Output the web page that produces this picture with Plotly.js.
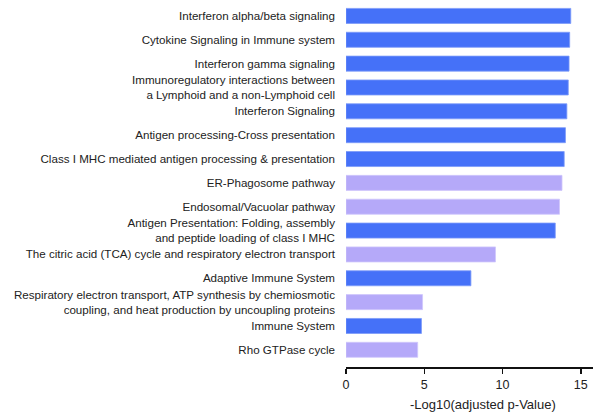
<!DOCTYPE html>
<html>
<head>
<meta charset="utf-8">
<script src="https://cdn.plot.ly/plotly-3.0.1.min.js"></script>
<style>html,body{margin:0;padding:0;background:#fff;}#chart{width:593px;height:414px;}</style>
</head>
<body>
<div id="chart"></div>
<script>
const pathways = [
  "Interferon alpha/beta signaling",
  "Cytokine Signaling in Immune system",
  "Interferon gamma signaling",
  "Immunoregulatory interactions between<br>a Lymphoid and a non-Lymphoid cell",
  "Interferon Signaling",
  "Antigen processing-Cross presentation",
  "Class I MHC mediated antigen processing &amp; presentation",
  "ER-Phagosome pathway",
  "Endosomal/Vacuolar pathway",
  "Antigen Presentation: Folding, assembly<br>and peptide loading of class I MHC",
  "The citric acid (TCA) cycle and respiratory electron transport",
  "Adaptive Immune System",
  "Respiratory electron transport, ATP synthesis by chemiosmotic<br>coupling, and heat production by uncoupling proteins",
  "Immune System",
  "Rho GTPase cycle"
];
const negLog10AdjP = [14.36, 14.29, 14.25, 14.2, 14.11, 14.02, 13.94, 13.8, 13.64, 13.37, 9.55, 7.98, 4.89, 4.82, 4.58];
const group = ["immune","immune","immune","immune","immune","immune","immune","other","other","immune","other","immune","other","immune","other"];
const groupColors = {immune: "#4571F8", other: "#B5A9F9"};
const groupLines = {immune: "#7C9AF9", other: "#CFC6FB"};
const xTicks = [0, 5, 10, 15];
const xTitle = "-Log10(adjusted p-Value)";

const trace = {
  type: "bar",
  orientation: "h",
  y: pathways,
  x: negLog10AdjP,
  marker: {
    color: group.map(g => groupColors[g]),
    line: {color: group.map(g => groupLines[g]), width: 0.8}
  },
  hoverinfo: "x+y"
};

const layout = {
  width: 593,
  height: 414,
  margin: {l: 346, r: 0, t: 4, b: 47},
  paper_bgcolor: "#fff",
  plot_bgcolor: "#fff",
  bargap: 0.37,
  showlegend: false,
  font: {family: "Liberation Sans, Arial, sans-serif", color: "#222"},
  xaxis: {
    range: [0, 15.78],
    tickvals: xTicks,
    ticktext: xTicks.map(String),
    ticks: "outside",
    ticklen: 5,
    tickwidth: 1.5,
    tickcolor: "#111",
    showline: true,
    linecolor: "#111",
    linewidth: 1.5,
    showgrid: false,
    zeroline: false,
    tickfont: {size: 12.5, color: "#222"},
    fixedrange: true
  },
  yaxis: {
    type: "category",
    range: [14.72, -0.5],
    showline: false,
    showgrid: false,
    zeroline: false,
    ticks: "",
    ticklabelstandoff: 10,
    tickfont: {size: 11.6, color: "#222"},
    fixedrange: true
  },
  annotations: [{
    text: xTitle,
    xref: "x",
    yref: "paper",
    x: 8.75,
    y: 0,
    yshift: -37,
    showarrow: false,
    xanchor: "center",
    yanchor: "middle",
    font: {size: 13, color: "#222"}
  }]
};

Plotly.newPlot("chart", [trace], layout, {displayModeBar: false, staticPlot: true});
</script>
</body>
</html>
